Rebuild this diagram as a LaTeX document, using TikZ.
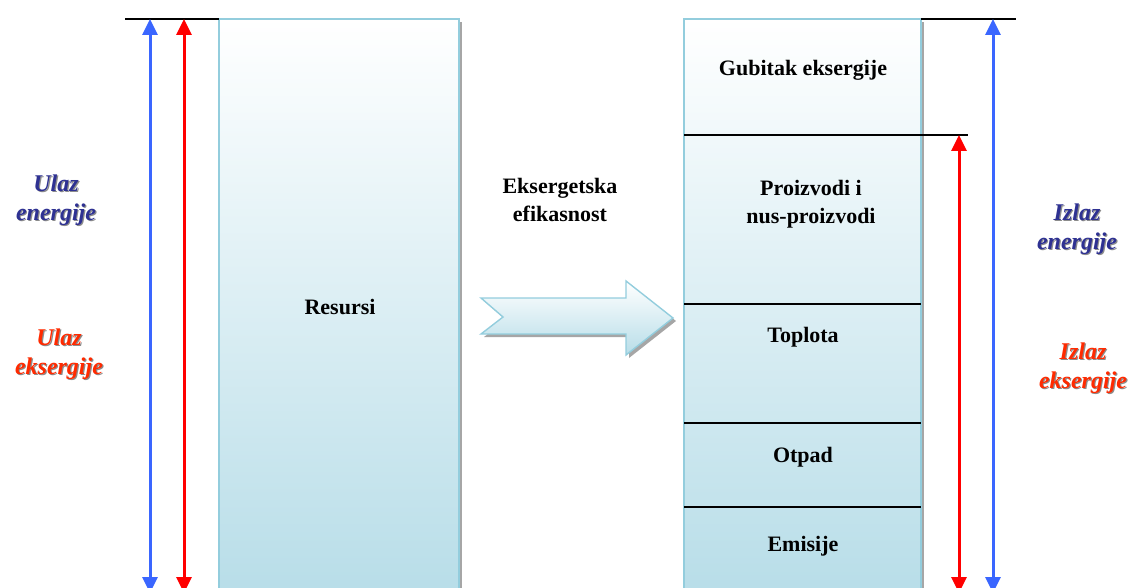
\documentclass[tikz,border=0pt]{standalone}
\usepackage{fontspec}
\setmainfont{Liberation Serif}
\usetikzlibrary{arrows.meta,calc}
\definecolor{boxedge}{HTML}{93CDDD}
\definecolor{boxfill}{HTML}{B7DDE8}
\definecolor{enblue}{HTML}{2E3192}
\definecolor{exred}{HTML}{FF2A00}
\definecolor{arrblue}{HTML}{3A66FF}
\definecolor{arrred}{HTML}{FF0000}
\tikzset{
  column/.style={top color=white, bottom color=boxfill, draw=boxedge, line width=1.6},
  colshadow/.style={fill=black!35},
  sepline/.style={draw=black, line width=1.4},
  flowarrow/.style={line width=3pt, {Triangle[width=15pt,length=16pt]}-{Triangle[width=15pt,length=16pt]}},
  boxtext/.style={font=\fontsize{22}{28}\selectfont\bfseries, align=center, inner sep=0},
  sidetext/.style={font=\fontsize{24}{29}\selectfont\bfseries\itshape, align=center, inner sep=0},
}
\newcommand{\shadowlabel}[4]{%
  \node[sidetext, text=black!45] at ($(#1)+(1.2,1.2)$) {#3};
  \node[sidetext, text=#2] (#4) at (#1) {#3};}
\begin{document}
\begin{tikzpicture}[x=1pt,y=-1pt]
\useasboundingbox (0,0) rectangle (1132,588);

% left column: resources
\fill[colshadow] (222,22) rectangle (462,600);
\shade[column] (219,19) rectangle (459,600);
\node[boxtext] (res) at (340,307) {Resursi};

% right column: outputs
\fill[colshadow] (687,22) rectangle (924,600);
\shade[column] (684,19) rectangle (921,600);

% level lines
\coordinate (inTop) at (125,19);
\coordinate (inTopR) at (219,19);
\draw[sepline] (inTop) -- (inTopR);
\coordinate (outTop) at (921,19);
\coordinate (outTopR) at (1016,19);
\draw[sepline] (outTop) -- (outTopR);
\coordinate (lossL) at (684,135);
\coordinate (lossR) at (968,135);
\draw[sepline] (lossL) -- (lossR);
\foreach \yy/\nm in {304/a,423/b,507/c}{
  \coordinate (s\nm L) at (684,\yy);
  \coordinate (s\nm R) at (921,\yy);
  \draw[sepline] (s\nm L) -- (s\nm R);
}

% segment labels
\node[boxtext] (loss) at (803,70) {Gubitak eksergije};
\node[boxtext] (prod) at (811,204) {Proizvodi i\\nus-proizvodi};
\node[boxtext] (heat) at (803,337) {Toplota};
\node[boxtext] (waste) at (803,457) {Otpad};
\node[boxtext] (emis) at (803,546) {Emisije};

% efficiency block arrow
\node[boxtext] (eff) at (560,200) {Eksergetska\\efikasnost};
\fill[black!35] (484,301) -- (629,301) -- (629,284) -- (676,321) -- (629,358) -- (629,337) -- (484,337) -- (506,320) -- cycle;
\shade[top color=white, bottom color=boxfill, draw=boxedge, line width=1.4]
  (481,298) -- (626,298) -- (626,281) -- (673,318) -- (626,355) -- (626,334) -- (481,334) -- (503,317) -- cycle;

% input arrows
\coordinate (eInT) at (150,19);
\coordinate (eInB) at (150,593);
\coordinate (xInT) at (184,19);
\coordinate (xInB) at (184,593);
\draw[flowarrow, arrblue] (eInT) -- (eInB);
\draw[flowarrow, arrred] (xInT) -- (xInB);

% output arrows
\coordinate (xOutT) at (959,135);
\coordinate (xOutB) at (959,593);
\coordinate (eOutT) at (993,19);
\coordinate (eOutB) at (993,593);
\draw[flowarrow, arrred] (xOutT) -- (xOutB);
\draw[flowarrow, arrblue] (eOutT) -- (eOutB);

% side labels
\shadowlabel{56,200}{enblue}{Ulaz\\energije}{uen}
\shadowlabel{59,354}{exred}{Ulaz\\eksergije}{uex}
\shadowlabel{1077,229}{enblue}{Izlaz\\energije}{ien}
\shadowlabel{1083,368}{exred}{Izlaz\\eksergije}{iex}
\end{tikzpicture}
\end{document}
